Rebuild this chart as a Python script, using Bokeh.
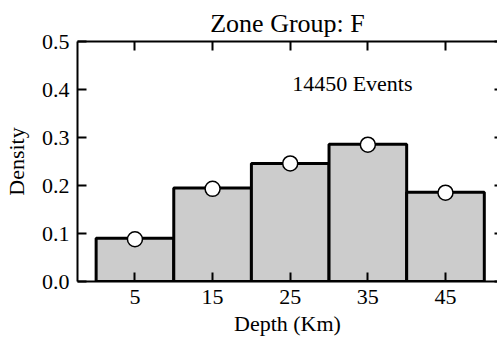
from bokeh.plotting import figure
from bokeh.models import (LinearAxis, FixedTicker, ColumnDataSource, Label,
                          CustomJSTickFormatter)
from bokeh.embed import file_html
from bokeh.resources import INLINE

# Depth histogram for zone group F
bin_edges = [0, 10, 20, 30, 40, 50]
bin_density = [0.090, 0.195, 0.246, 0.286, 0.186]
depth_centers = [5, 15, 25, 35, 45]
point_density = [0.088, 0.193, 0.246, 0.285, 0.185]
y_ticks = [0.0, 0.1, 0.2, 0.3, 0.4, 0.5]
event_count = 14450

FONT = "Liberation Serif"

bars = ColumnDataSource(dict(left=bin_edges[:-1], right=bin_edges[1:],
                             top=bin_density, bottom=[0] * len(bin_density)))
pts = ColumnDataSource(dict(x=depth_centers, y=point_density))

p = figure(width=497, height=338, x_range=(-2.4, 51.7), y_range=(0, 0.5),
           output_backend="svg", toolbar_location=None,
           x_axis_location=None, y_axis_location=None,
           min_border_left=77, min_border_right=0, min_border_top=41,
           min_border_bottom=57)
p.grid.visible = False
p.outline_line_color = None
p.background_fill_color = "white"
p.border_fill_color = "white"

p.title.text = "Zone Group: F"
p.title.align = "center"
p.title.text_font = FONT
p.title.text_font_size = "26px"
p.title.text_font_style = "normal"
p.title.text_color = "black"
p.title.offset = 3
p.title.standoff = 8

blank = CustomJSTickFormatter(code="return '';")


def style_axis(ax):
    ax.axis_line_color = "black"
    ax.axis_line_width = 2
    ax.major_tick_line_color = "black"
    ax.major_tick_line_width = 2
    ax.major_tick_in = 9
    ax.major_tick_out = 0
    ax.minor_tick_line_color = None
    ax.major_label_text_font = FONT
    ax.major_label_text_font_size = "22px"
    ax.major_label_text_color = "black"
    ax.axis_label_text_font = FONT
    ax.axis_label_text_font_size = "22px"
    ax.axis_label_text_font_style = "normal"
    ax.axis_label_text_color = "black"


xb = LinearAxis(ticker=FixedTicker(ticks=depth_centers), axis_label="Depth (Km)")
style_axis(xb)
xb.major_label_standoff = 8
xb.axis_label_standoff = 4
p.add_layout(xb, "below")

xt = LinearAxis(ticker=FixedTicker(ticks=depth_centers), formatter=blank)
style_axis(xt)
xt.major_label_standoff = 0
p.add_layout(xt, "above")

yl = LinearAxis(ticker=FixedTicker(ticks=y_ticks), axis_label="Density",
                formatter=CustomJSTickFormatter(code="return tick.toFixed(1);"))
style_axis(yl)
yl.major_label_standoff = 8
yl.axis_label_standoff = 10
p.add_layout(yl, "left")

# right-hand ticks sit at the window edge; only their inner stubs show
yr = LinearAxis(ticker=FixedTicker(ticks=y_ticks), formatter=blank)
style_axis(yr)
yr.axis_line_color = None
yr.major_tick_in = 3
yr.major_label_standoff = 0
p.add_layout(yr, "right")

p.quad(left="left", right="right", top="top", bottom="bottom", source=bars,
       fill_color="#cccccc", line_color="black", line_width=3)
p.scatter(x="x", y="y", source=pts, size=15, fill_color="white",
          line_color="black", line_width=1.5)

p.add_layout(Label(x=33, y=0.413, text=f"{event_count} Events",
                   text_font=FONT, text_font_size="22px", text_color="black",
                   text_align="center", text_baseline="middle"))

open("out.html", "w").write(file_html(p, INLINE))
